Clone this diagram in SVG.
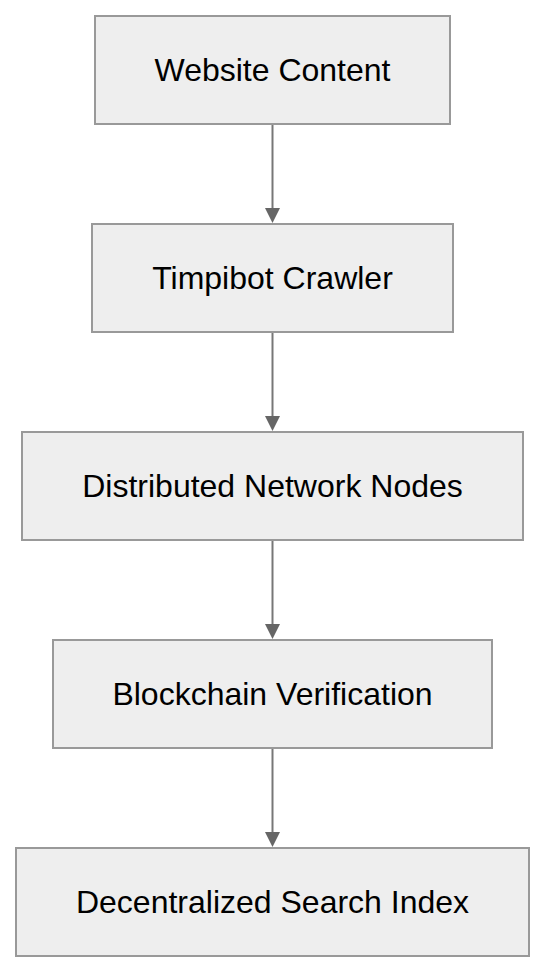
<svg xmlns="http://www.w3.org/2000/svg" width="546" height="972" viewBox="0 0 546 972">
<style>
.box{fill:#eeeeee;stroke:#999999;stroke-width:2}
.lbl{font-family:"Liberation Sans",Arial,sans-serif;font-size:32px;fill:#000;text-anchor:middle}
.edge{stroke:#777777;stroke-width:2;fill:none}
.head{fill:#666666}
</style>
<rect width="546" height="972" fill="#ffffff"/>
<g id="connectors">
<path class="edge" d="M272.5,124 L272.5,210"/>
<path class="head" d="M265,208 L280,208 L272.5,223 Z"/>
<path class="edge" d="M272.5,332 L272.5,418"/>
<path class="head" d="M265,416 L280,416 L272.5,431 Z"/>
<path class="edge" d="M272.5,540 L272.5,626"/>
<path class="head" d="M265,624 L280,624 L272.5,639 Z"/>
<path class="edge" d="M272.5,748 L272.5,834"/>
<path class="head" d="M265,832 L280,832 L272.5,847 Z"/>
</g>
<g id="n1"><rect class="box" x="95" y="16" width="355" height="108"/><text class="lbl" x="272.5" y="81">Website Content</text></g>
<g id="n2"><rect class="box" x="92" y="224" width="361" height="108"/><text class="lbl" x="272.5" y="289">Timpibot Crawler</text></g>
<g id="n3"><rect class="box" x="22" y="432" width="501" height="108"/><text class="lbl" x="272.5" y="497">Distributed Network Nodes</text></g>
<g id="n4"><rect class="box" x="53" y="640" width="439" height="108"/><text class="lbl" x="272.5" y="705">Blockchain Verification</text></g>
<g id="n5"><rect class="box" x="16" y="848" width="513" height="108"/><text class="lbl" x="272.5" y="913">Decentralized Search Index</text></g>
</svg>
